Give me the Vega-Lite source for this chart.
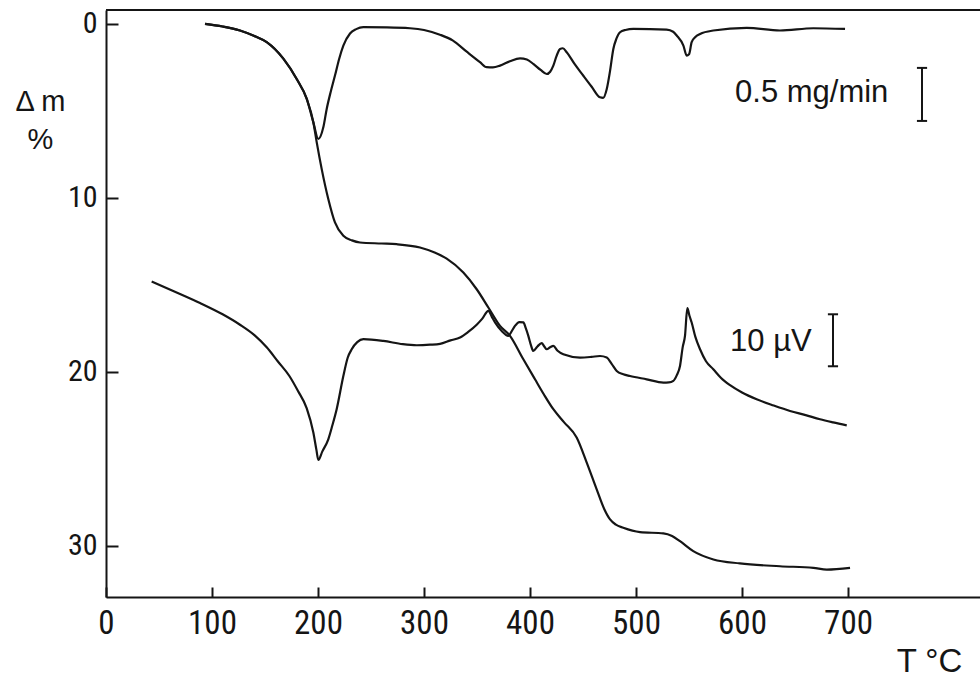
{
  "$schema": "https://vega.github.io/schema/vega-lite/v6.json",
  "width": 874,
  "height": 587,
  "autosize": "none",
  "padding": {"left": 106, "top": 10, "right": 0, "bottom": 83},
  "background": "white",
  "config": {
    "view": {"stroke": null},
    "font": "Liberation Sans",
    "axis": {"grid": false, "domainColor": "#151515", "domainWidth": 2, "tickColor": "#151515", "tickWidth": 2, "labelColor": "#151515", "titleColor": "#151515", "labelFont": "Liberation Sans Narrow, Roboto Condensed, Liberation Sans", "titleFont": "Liberation Sans", "titleFontWeight": "normal"}
  },
  "datasets": {
    "curves": [
      {"s": "TG", "T": 93.4, "v": 0}, {"s": "TG", "T": 110, "v": 0.15}, {"s": "TG", "T": 126.4, "v": 0.38}, {"s": "TG", "T": 140, "v": 0.7}, {"s": "TG", "T": 151.6, "v": 1.05}, {"s": "TG", "T": 167.3, "v": 2.0}, {"s": "TG", "T": 179.9, "v": 3.17}, {"s": "TG", "T": 189.3, "v": 4.3}, {"s": "TG", "T": 195.6, "v": 5.66}, {"s": "TG", "T": 198.8, "v": 6.81}, {"s": "TG", "T": 203.5, "v": 8.35}, {"s": "TG", "T": 209.7, "v": 10.07}, {"s": "TG", "T": 216, "v": 11.42}, {"s": "TG", "T": 223.9, "v": 12.19}, {"s": "TG", "T": 232, "v": 12.45}, {"s": "TG", "T": 239.6, "v": 12.57}, {"s": "TG", "T": 260, "v": 12.63}, {"s": "TG", "T": 274.2, "v": 12.67}, {"s": "TG", "T": 296.2, "v": 12.86}, {"s": "TG", "T": 310, "v": 13.15}, {"s": "TG", "T": 321.4, "v": 13.5}, {"s": "TG", "T": 337.1, "v": 14.3}, {"s": "TG", "T": 349.7, "v": 15.26}, {"s": "TG", "T": 360.7, "v": 16.31}, {"s": "TG", "T": 371.7, "v": 17.37}, {"s": "TG", "T": 381.1, "v": 17.94}, {"s": "TG", "T": 393.7, "v": 19.29}, {"s": "TG", "T": 404.7, "v": 20.44}, {"s": "TG", "T": 413, "v": 21.3}, {"s": "TG", "T": 422, "v": 22.16}, {"s": "TG", "T": 432, "v": 22.9}, {"s": "TG", "T": 444, "v": 23.79}, {"s": "TG", "T": 453.5, "v": 25.23}, {"s": "TG", "T": 462.9, "v": 26.77}, {"s": "TG", "T": 470, "v": 27.9}, {"s": "TG", "T": 475.5, "v": 28.5}, {"s": "TG", "T": 481, "v": 28.8}, {"s": "TG", "T": 488, "v": 28.98}, {"s": "TG", "T": 503.8, "v": 29.23}, {"s": "TG", "T": 525.8, "v": 29.3}, {"s": "TG", "T": 534, "v": 29.45}, {"s": "TG", "T": 541.5, "v": 29.75}, {"s": "TG", "T": 554, "v": 30.32}, {"s": "TG", "T": 573, "v": 30.8}, {"s": "TG", "T": 598, "v": 31.03}, {"s": "TG", "T": 635.8, "v": 31.19}, {"s": "TG", "T": 667.3, "v": 31.28}, {"s": "TG", "T": 680, "v": 31.38}, {"s": "TG", "T": 701.9, "v": 31.28},

      {"s": "DTG", "T": 93.4, "v": 0}, {"s": "DTG", "T": 110, "v": 0.15}, {"s": "DTG", "T": 126.4, "v": 0.38}, {"s": "DTG", "T": 140, "v": 0.7}, {"s": "DTG", "T": 151.6, "v": 1.05}, {"s": "DTG", "T": 167.3, "v": 2.0}, {"s": "DTG", "T": 179.9, "v": 3.17}, {"s": "DTG", "T": 189.3, "v": 4.3}, {"s": "DTG", "T": 195.6, "v": 5.66}, {"s": "DTG", "T": 200.3, "v": 6.62}, {"s": "DTG", "T": 205, "v": 5.95}, {"s": "DTG", "T": 208.2, "v": 4.89}, {"s": "DTG", "T": 212, "v": 3.9}, {"s": "DTG", "T": 216, "v": 2.97}, {"s": "DTG", "T": 220, "v": 2.0}, {"s": "DTG", "T": 223.9, "v": 1.25}, {"s": "DTG", "T": 230.2, "v": 0.55}, {"s": "DTG", "T": 236, "v": 0.3}, {"s": "DTG", "T": 242.8, "v": 0.19}, {"s": "DTG", "T": 265, "v": 0.2}, {"s": "DTG", "T": 286.8, "v": 0.25}, {"s": "DTG", "T": 300, "v": 0.35}, {"s": "DTG", "T": 315, "v": 0.62}, {"s": "DTG", "T": 327, "v": 0.95}, {"s": "DTG", "T": 340.3, "v": 1.6}, {"s": "DTG", "T": 352.8, "v": 2.2}, {"s": "DTG", "T": 359.1, "v": 2.49}, {"s": "DTG", "T": 365, "v": 2.5}, {"s": "DTG", "T": 371.7, "v": 2.4}, {"s": "DTG", "T": 381, "v": 2.15}, {"s": "DTG", "T": 390.6, "v": 1.98}, {"s": "DTG", "T": 397, "v": 2.05}, {"s": "DTG", "T": 403.1, "v": 2.3}, {"s": "DTG", "T": 410, "v": 2.65}, {"s": "DTG", "T": 415.8, "v": 2.88}, {"s": "DTG", "T": 419, "v": 2.75}, {"s": "DTG", "T": 422, "v": 2.4}, {"s": "DTG", "T": 425, "v": 1.85}, {"s": "DTG", "T": 428.3, "v": 1.44}, {"s": "DTG", "T": 431, "v": 1.4}, {"s": "DTG", "T": 434.6, "v": 1.63}, {"s": "DTG", "T": 442, "v": 2.3}, {"s": "DTG", "T": 450.3, "v": 2.98}, {"s": "DTG", "T": 458, "v": 3.6}, {"s": "DTG", "T": 466, "v": 4.22}, {"s": "DTG", "T": 469, "v": 4.25}, {"s": "DTG", "T": 472.4, "v": 3.74}, {"s": "DTG", "T": 475.5, "v": 2.7}, {"s": "DTG", "T": 478.6, "v": 1.44}, {"s": "DTG", "T": 481.5, "v": 0.85}, {"s": "DTG", "T": 484.9, "v": 0.48}, {"s": "DTG", "T": 490, "v": 0.35}, {"s": "DTG", "T": 497.5, "v": 0.29}, {"s": "DTG", "T": 528.9, "v": 0.33}, {"s": "DTG", "T": 535, "v": 0.45}, {"s": "DTG", "T": 538.4, "v": 0.67}, {"s": "DTG", "T": 544.7, "v": 1.25}, {"s": "DTG", "T": 547.8, "v": 1.82}, {"s": "DTG", "T": 550, "v": 1.75}, {"s": "DTG", "T": 552.5, "v": 1.05}, {"s": "DTG", "T": 556, "v": 0.75}, {"s": "DTG", "T": 560.4, "v": 0.58}, {"s": "DTG", "T": 572.9, "v": 0.38}, {"s": "DTG", "T": 604.4, "v": 0.23}, {"s": "DTG", "T": 635.8, "v": 0.38}, {"s": "DTG", "T": 667.3, "v": 0.25}, {"s": "DTG", "T": 697.2, "v": 0.29},

      {"s": "DTA", "T": 43.1, "v": 14.81}, {"s": "DTA", "T": 65, "v": 15.4}, {"s": "DTA", "T": 88.7, "v": 16.05}, {"s": "DTA", "T": 110, "v": 16.7}, {"s": "DTA", "T": 126.4, "v": 17.3}, {"s": "DTA", "T": 140, "v": 17.9}, {"s": "DTA", "T": 151.6, "v": 18.6}, {"s": "DTA", "T": 162, "v": 19.4}, {"s": "DTA", "T": 173, "v": 20.25}, {"s": "DTA", "T": 181, "v": 21.1}, {"s": "DTA", "T": 189.3, "v": 22.1}, {"s": "DTA", "T": 195.6, "v": 23.5}, {"s": "DTA", "T": 198.5, "v": 24.5}, {"s": "DTA", "T": 200.3, "v": 25.08}, {"s": "DTA", "T": 204, "v": 24.6}, {"s": "DTA", "T": 209.7, "v": 23.89}, {"s": "DTA", "T": 213.5, "v": 23.1}, {"s": "DTA", "T": 217.6, "v": 22.16}, {"s": "DTA", "T": 223.9, "v": 20.25}, {"s": "DTA", "T": 228, "v": 19.2}, {"s": "DTA", "T": 231.8, "v": 18.71}, {"s": "DTA", "T": 237, "v": 18.3}, {"s": "DTA", "T": 242.8, "v": 18.13}, {"s": "DTA", "T": 261.6, "v": 18.23}, {"s": "DTA", "T": 280, "v": 18.42}, {"s": "DTA", "T": 293.1, "v": 18.48}, {"s": "DTA", "T": 305.7, "v": 18.45}, {"s": "DTA", "T": 315.1, "v": 18.4}, {"s": "DTA", "T": 325, "v": 18.2}, {"s": "DTA", "T": 334, "v": 18.04}, {"s": "DTA", "T": 342, "v": 17.7}, {"s": "DTA", "T": 349.7, "v": 17.3}, {"s": "DTA", "T": 355, "v": 16.95}, {"s": "DTA", "T": 360.7, "v": 16.5}, {"s": "DTA", "T": 364, "v": 16.85}, {"s": "DTA", "T": 367, "v": 17.17}, {"s": "DTA", "T": 373.3, "v": 17.66}, {"s": "DTA", "T": 379.5, "v": 17.94}, {"s": "DTA", "T": 382.5, "v": 17.7}, {"s": "DTA", "T": 385.8, "v": 17.37}, {"s": "DTA", "T": 390, "v": 17.15}, {"s": "DTA", "T": 393.7, "v": 17.17}, {"s": "DTA", "T": 396, "v": 17.5}, {"s": "DTA", "T": 398.4, "v": 17.94}, {"s": "DTA", "T": 401, "v": 18.5}, {"s": "DTA", "T": 403.1, "v": 18.81}, {"s": "DTA", "T": 407, "v": 18.55}, {"s": "DTA", "T": 411, "v": 18.36}, {"s": "DTA", "T": 413.5, "v": 18.55}, {"s": "DTA", "T": 415.8, "v": 18.71}, {"s": "DTA", "T": 419, "v": 18.6}, {"s": "DTA", "T": 422, "v": 18.52}, {"s": "DTA", "T": 426, "v": 18.8}, {"s": "DTA", "T": 431.4, "v": 19.0}, {"s": "DTA", "T": 447.2, "v": 19.19}, {"s": "DTA", "T": 458, "v": 19.15}, {"s": "DTA", "T": 466, "v": 19.1}, {"s": "DTA", "T": 472.4, "v": 19.19}, {"s": "DTA", "T": 477, "v": 19.55}, {"s": "DTA", "T": 481.8, "v": 19.96}, {"s": "DTA", "T": 488, "v": 20.15}, {"s": "DTA", "T": 494.3, "v": 20.25}, {"s": "DTA", "T": 510.1, "v": 20.44}, {"s": "DTA", "T": 525.8, "v": 20.63}, {"s": "DTA", "T": 531, "v": 20.62}, {"s": "DTA", "T": 535.2, "v": 20.53}, {"s": "DTA", "T": 538.5, "v": 20.2}, {"s": "DTA", "T": 541.5, "v": 19.67}, {"s": "DTA", "T": 544, "v": 18.6}, {"s": "DTA", "T": 546.2, "v": 17.94}, {"s": "DTA", "T": 548.4, "v": 16.35}, {"s": "DTA", "T": 550.5, "v": 16.8}, {"s": "DTA", "T": 552.5, "v": 17.17}, {"s": "DTA", "T": 556, "v": 18.0}, {"s": "DTA", "T": 560.4, "v": 18.71}, {"s": "DTA", "T": 566, "v": 19.4}, {"s": "DTA", "T": 572.9, "v": 19.86}, {"s": "DTA", "T": 580, "v": 20.35}, {"s": "DTA", "T": 588.7, "v": 20.78}, {"s": "DTA", "T": 600, "v": 21.2}, {"s": "DTA", "T": 613.8, "v": 21.59}, {"s": "DTA", "T": 630, "v": 21.95}, {"s": "DTA", "T": 645.3, "v": 22.26}, {"s": "DTA", "T": 660, "v": 22.5}, {"s": "DTA", "T": 673.6, "v": 22.74}, {"s": "DTA", "T": 686, "v": 22.92}, {"s": "DTA", "T": 698.8, "v": 23.09}
    ],
    "bars": [
      {"T": 769.8, "a": 2.53, "b": 5.58, "T1": 765, "T2": 774.6},
      {"T": 685.8, "a": 16.7, "b": 19.69, "T1": 681, "T2": 690.6}
    ],
    "labels": [
      {"T": 593.4, "v": 4.5, "t": "0.5 mg/min"},
      {"T": 588.7, "v": 18.8, "t": "10 µV"}
    ]
  },
  "layer": [
    {
      "data": {"name": "curves"},
      "mark": {"type": "line", "color": "#151515", "strokeWidth": 2.2, "interpolate": "monotone"},
      "encoding": {
        "x": {"field": "T", "type": "quantitative", "scale": {"domain": [0, 824.5], "nice": false, "zero": false},
          "axis": {"values": [0, 100, 200, 300, 400, 500, 600, 700], "tickSize": -10, "labelPadding": 20, "labelFontSize": 33, "labelFlush": false,
            "title": "T  °C", "titleFontSize": 33, "titleX": 823, "titleY": 74, "titleAlign": "center", "titleBaseline": "alphabetic"}},
        "y": {"field": "v", "type": "quantitative", "scale": {"domain": [-0.8, 32.96], "nice": false, "zero": false, "reverse": true},
          "axis": {"values": [0, 10, 20, 30], "tickSize": -12, "labelPadding": 21, "labelFontSize": 30,
            "title": ["Δ  m", "%"], "titleFontSize": 29, "titleAngle": 0, "titleX": -66, "titleY": 100, "titleAlign": "center", "titleBaseline": "alphabetic", "titleLineHeight": 38}},
        "detail": {"field": "s", "type": "nominal"}
      }
    },
    {
      "data": {"values": [{"v": -0.8}]},
      "mark": {"type": "rule", "color": "#151515", "strokeWidth": 2},
      "encoding": {"y": {"field": "v", "type": "quantitative"}}
    },
    {
      "data": {"name": "bars"},
      "mark": {"type": "rule", "color": "#151515", "strokeWidth": 2},
      "encoding": {"x": {"field": "T", "type": "quantitative"}, "y": {"field": "a", "type": "quantitative"}, "y2": {"field": "b"}}
    },
    {
      "data": {"name": "bars"},
      "mark": {"type": "rule", "color": "#151515", "strokeWidth": 2},
      "encoding": {"x": {"field": "T1", "type": "quantitative"}, "x2": {"field": "T2"}, "y": {"field": "a", "type": "quantitative"}}
    },
    {
      "data": {"name": "bars"},
      "mark": {"type": "rule", "color": "#151515", "strokeWidth": 2},
      "encoding": {"x": {"field": "T1", "type": "quantitative"}, "x2": {"field": "T2"}, "y": {"field": "b", "type": "quantitative"}}
    },
    {
      "data": {"name": "labels"},
      "mark": {"type": "text", "color": "#151515", "fontSize": 31, "align": "left", "baseline": "alphabetic", "font": "Liberation Sans"},
      "encoding": {"x": {"field": "T", "type": "quantitative"}, "y": {"field": "v", "type": "quantitative"}, "text": {"field": "t"}}
    }
  ]
}
